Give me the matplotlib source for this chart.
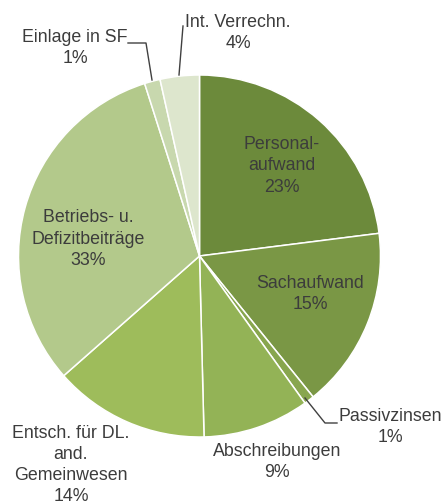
import matplotlib
matplotlib.use("Agg")
import matplotlib.pyplot as plt

# Data (slice shares, label texts as printed)
categories = ["Personal-\naufwand", "Sachaufwand", "Passivzinsen", "Abschreibungen",
              "Entsch. für DL.\nand.\nGemeinwesen", "Betriebs- u.\nDefizitbeiträge",
              "Einlage in SF", "Int. Verrechn."]
shares = [23.0, 16.2, 0.9, 9.5, 13.9, 31.6, 1.4, 3.5]
pct_labels = ["23%", "15%", "1%", "9%", "14%", "33%", "1%", "4%"]

colors = ["#6C8A3B", "#7A9745", "#88A64E", "#93B356", "#9EBC5B", "#B3C98B", "#C8D8AE", "#DDE6CD"]

W, H = 443, 504
fig = plt.figure(figsize=(W / 100, H / 100), dpi=100)
ax = fig.add_axes([0, 0, 1, 1])

cx, cy, R = 199.5, H - 256, 181
ax.pie(shares, colors=colors, startangle=90, counterclock=False,
       center=(cx, cy), radius=R, frame=True,
       wedgeprops=dict(edgecolor="white", linewidth=1.1))
ax.set_xlim(0, W)
ax.set_ylim(0, H)
ax.set_aspect("equal")
ax.axis("off")

tc = "#3C3C3C"
fp = dict(family=["Liberation Sans", "DejaVu Sans"], fontsize=12.8, color=tc,
          ha="center", va="center", linespacing=1.32)

def lab(i, x, y):
    ax.text(x, H - y, categories[i] + "\n" + pct_labels[i], **fp)

lab(0, 282, 166)
lab(1, 310, 294)
lab(2, 390, 427)
lab(3, 277, 462)
lab(4, 71, 465)
lab(5, 88, 239)
lab(6, 75, 48)
lab(7, 238, 33)

lc = "#404040"
ax.plot([305, 325, 337], [H - 398, H - 423, H - 423], color=lc, lw=1.0)
ax.plot([128, 146, 152], [H - 43, H - 43, H - 80], color=lc, lw=1.0)
ax.plot([183, 179], [H - 26, H - 75], color=lc, lw=1.0)

fig.savefig("out.png", dpi=100, facecolor="white")
